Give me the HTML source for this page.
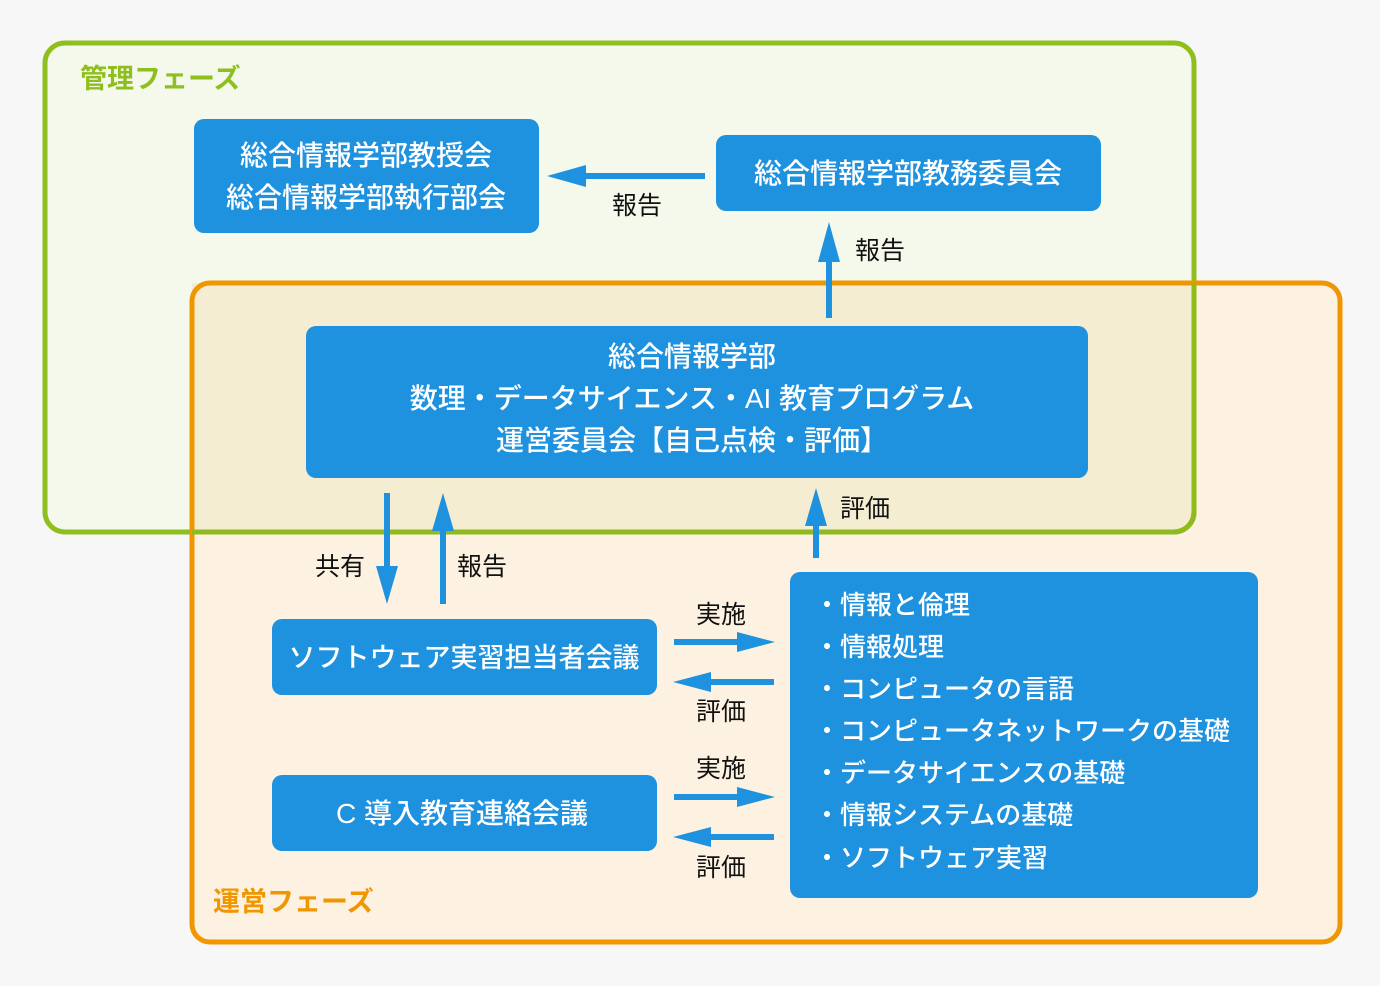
<!DOCTYPE html>
<html><head><meta charset="utf-8"><style>
html,body{margin:0;padding:0;background:#f7f7f7;}
svg{display:block;}
text{font-family:"Liberation Sans","Noto Sans CJK JP",sans-serif;}
.w{fill:#fff;font-size:28px;font-weight:500;}
.l{fill:#fff;font-size:26px;font-weight:500;}
.k{fill:#111;font-size:25px;}
</style></head><body>
<svg width="1380" height="986" viewBox="0 0 1380 986" xmlns="http://www.w3.org/2000/svg">
<rect x="0" y="0" width="1380" height="986" fill="#f7f7f7"/>
<rect x="45" y="43" width="1149" height="489" rx="20" fill="#f5f9ec"/>
<rect x="192" y="283" width="1148" height="659" rx="18" fill="#fdf1e1"/>
<path d="M192 283 H1194 V512 A20 20 0 0 1 1174 532 H192 Z" fill="#f5edd2"/>
<rect x="45" y="43" width="1149" height="489" rx="20" fill="none" stroke="#8fbf1e" stroke-width="5"/>
<rect x="192" y="283" width="1148" height="659" rx="18" fill="none" stroke="#f09600" stroke-width="5"/>
<path d="M192 532 H1174 A20 20 0 0 0 1194 512 V283" fill="none" stroke="#8fbb1c" stroke-width="5"/>
<text x="80" y="88" fill="#8fbf1e" font-size="27" font-weight="bold">管理フェーズ</text>
<text x="213" y="911" fill="#f09600" font-size="27" font-weight="bold">運営フェーズ</text>
<g fill="#1e91df">
<rect x="194" y="119" width="345" height="114" rx="10"/>
<rect x="716" y="135" width="385" height="76" rx="10"/>
<rect x="306" y="326" width="782" height="152" rx="10"/>
<rect x="272" y="619" width="385" height="76" rx="10"/>
<rect x="272" y="775" width="385" height="76" rx="10"/>
<rect x="790" y="572" width="468" height="326" rx="10"/>
</g>
<g class="w" text-anchor="middle">
<text x="366" y="165">総合情報学部教授会</text>
<text x="366" y="207">総合情報学部執行部会</text>
<text x="908" y="183">総合情報学部教務委員会</text>
<text x="692" y="366">総合情報学部</text>
<text x="692" y="408">数理・データサイエンス・AI 教育プログラム</text>
<text x="692" y="450">運営委員会【自己点検・評価】</text>
<text x="464" y="667" font-size="27">ソフトウェア実習担当者会議</text>
<text x="462" y="823">C 導入教育連絡会議</text>
</g>
<g class="l">
<text x="814" y="614">・情報と倫理</text>
<text x="814" y="656">・情報処理</text>
<text x="814" y="698">・コンピュータの言語</text>
<text x="814" y="740">・コンピュータネットワークの基礎</text>
<text x="814" y="782">・データサイエンスの基礎</text>
<text x="814" y="824">・情報システムの基礎</text>
<text x="814" y="867">・ソフトウェア実習</text>
</g>
<g stroke="#1e91df" stroke-width="6" fill="none">
<line x1="705" y1="176" x2="580" y2="176"/>
<line x1="829" y1="318" x2="829" y2="255"/>
<line x1="387" y1="493" x2="387" y2="572"/>
<line x1="443" y1="604" x2="443" y2="525"/>
<line x1="816" y1="558" x2="816" y2="520"/>
<line x1="674" y1="642" x2="742" y2="642"/>
<line x1="774" y1="682" x2="706" y2="682"/>
<line x1="674" y1="797" x2="742" y2="797"/>
<line x1="774" y1="837" x2="706" y2="837"/>
</g>
<g fill="#1e91df">
<polygon points="547,176 586,165 586,187"/>
<polygon points="829,222 818,262 840,262"/>
<polygon points="387,604 376,566 398,566"/>
<polygon points="443,493 432,531 454,531"/>
<polygon points="816,488 805,526 827,526"/>
<polygon points="775,642 737,632 737,652"/>
<polygon points="673,682 711,672 711,692"/>
<polygon points="775,797 737,787 737,807"/>
<polygon points="673,837 711,827 711,847"/>
</g>
<g class="k" text-anchor="middle">
<text x="637" y="214">報告</text>
<text x="880" y="259">報告</text>
<text x="340" y="575">共有</text>
<text x="482" y="575">報告</text>
<text x="865" y="517">評価</text>
<text x="721" y="623">実施</text>
<text x="721" y="720">評価</text>
<text x="721" y="777">実施</text>
<text x="721" y="876">評価</text>
</g>
</svg>
</body></html>
